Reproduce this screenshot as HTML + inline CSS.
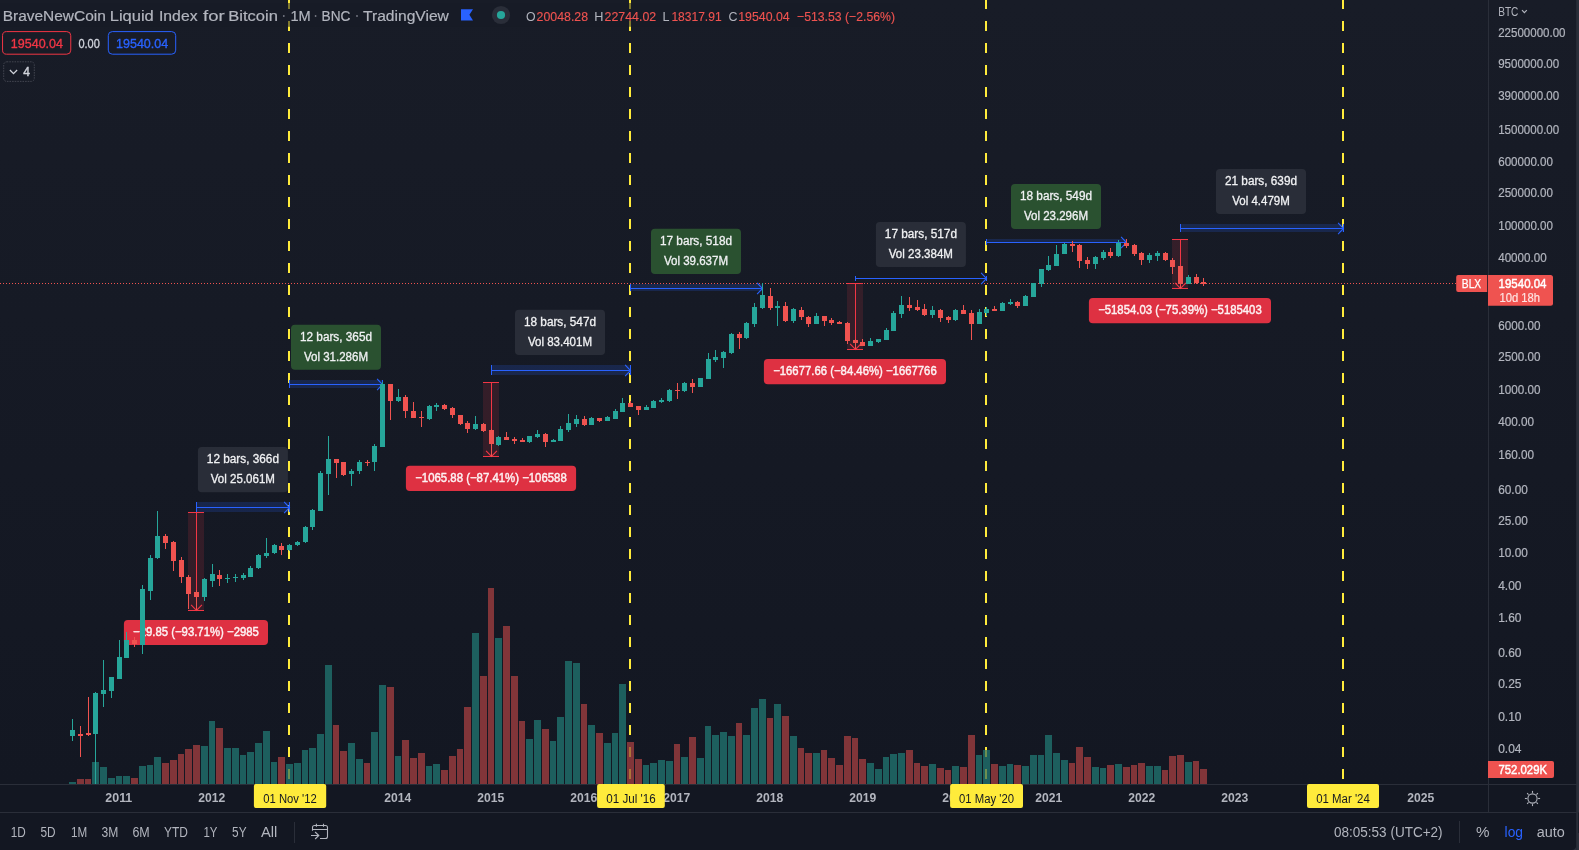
<!DOCTYPE html>
<html><head><meta charset="utf-8"><title>BLX</title>
<style>html,body{margin:0;padding:0;background:#161a25;overflow:hidden}body{width:1579px;height:850px;font-family:"Liberation Sans",sans-serif}</style></head>
<body>
<svg width="1579" height="850" viewBox="0 0 1579 850" style="display:block;will-change:transform" font-family="Liberation Sans, sans-serif">
<defs><linearGradient id="bgg" x1="0" y1="0" x2="0" y2="1"><stop offset="0" stop-color="#181c27"/><stop offset="1" stop-color="#131722"/></linearGradient></defs>
<rect x="0" y="0" width="1579" height="784" fill="url(#bgg)"/>
<g id="vlines">
<line x1="289" y1="-1" x2="289" y2="784" stroke="#ffeb3b" stroke-width="2" stroke-dasharray="10 12"/>
<line x1="630" y1="-1" x2="630" y2="784" stroke="#ffeb3b" stroke-width="2" stroke-dasharray="10 12"/>
<line x1="986" y1="-1" x2="986" y2="784" stroke="#ffeb3b" stroke-width="2" stroke-dasharray="10 12"/>
<line x1="1343" y1="-1" x2="1343" y2="784" stroke="#ffeb3b" stroke-width="2" stroke-dasharray="10 12"/>
</g>
<line x1="0" y1="283.5" x2="1488" y2="283.5" stroke="#ef5350" stroke-width="1" stroke-dasharray="1 2" shape-rendering="crispEdges"/>
<rect x="196.5" y="502" width="93.0" height="10" fill="#2962ff" fill-opacity="0.18"/><line x1="196.5" y1="507.5" x2="289.5" y2="507.5" stroke="#2962ff" stroke-width="1"/><line x1="196.5" y1="502" x2="196.5" y2="512" stroke="#2962ff" stroke-width="1"/><line x1="289.5" y1="502" x2="289.5" y2="512" stroke="#2962ff" stroke-width="1"/><polyline points="284.1,501.9 289.5,507.5 284.1,513.1" fill="none" stroke="#2962ff" stroke-width="1.1"/>
<rect x="289.5" y="380" width="93.0" height="8" fill="#2962ff" fill-opacity="0.18"/><line x1="289.5" y1="384.5" x2="382.5" y2="384.5" stroke="#2962ff" stroke-width="1"/><line x1="289.5" y1="380" x2="289.5" y2="388" stroke="#2962ff" stroke-width="1"/><line x1="382.5" y1="380" x2="382.5" y2="388" stroke="#2962ff" stroke-width="1"/><polyline points="377.1,378.9 382.5,384.5 377.1,390.1" fill="none" stroke="#2962ff" stroke-width="1.1"/>
<rect x="491.5" y="365" width="139.0" height="10" fill="#2962ff" fill-opacity="0.18"/><line x1="491.5" y1="370.5" x2="630.5" y2="370.5" stroke="#2962ff" stroke-width="1"/><line x1="491.5" y1="365" x2="491.5" y2="375" stroke="#2962ff" stroke-width="1"/><line x1="630.5" y1="365" x2="630.5" y2="375" stroke="#2962ff" stroke-width="1"/><polyline points="625.1,364.9 630.5,370.5 625.1,376.1" fill="none" stroke="#2962ff" stroke-width="1.1"/>
<rect x="630.5" y="284" width="132.0" height="7" fill="#2962ff" fill-opacity="0.18"/><line x1="630.5" y1="288.5" x2="762.5" y2="288.5" stroke="#2962ff" stroke-width="1"/><line x1="630.5" y1="284" x2="630.5" y2="291" stroke="#2962ff" stroke-width="1"/><line x1="762.5" y1="284" x2="762.5" y2="291" stroke="#2962ff" stroke-width="1"/><polyline points="757.1,282.9 762.5,288.5 757.1,294.1" fill="none" stroke="#2962ff" stroke-width="1.1"/>
<line x1="855.5" y1="278.5" x2="986.5" y2="278.5" stroke="#2962ff" stroke-width="1"/><line x1="855.5" y1="276.0" x2="855.5" y2="281.0" stroke="#2962ff" stroke-width="1"/><line x1="986.5" y1="276.0" x2="986.5" y2="281.0" stroke="#2962ff" stroke-width="1"/><polyline points="981.1,272.9 986.5,278.5 981.1,284.1" fill="none" stroke="#2962ff" stroke-width="1.1"/>
<rect x="986.5" y="239" width="140.0" height="4" fill="#2962ff" fill-opacity="0.18"/><line x1="986.5" y1="242.5" x2="1126.5" y2="242.5" stroke="#2962ff" stroke-width="1"/><line x1="986.5" y1="239" x2="986.5" y2="245.0" stroke="#2962ff" stroke-width="1"/><line x1="1126.5" y1="239" x2="1126.5" y2="245.0" stroke="#2962ff" stroke-width="1"/><polyline points="1121.1,236.9 1126.5,242.5 1121.1,248.1" fill="none" stroke="#2962ff" stroke-width="1.1"/>
<rect x="1180.5" y="224" width="163.0" height="8" fill="#2962ff" fill-opacity="0.18"/><line x1="1180.5" y1="228.5" x2="1343.5" y2="228.5" stroke="#2962ff" stroke-width="1"/><line x1="1180.5" y1="224" x2="1180.5" y2="232" stroke="#2962ff" stroke-width="1"/><line x1="1343.5" y1="224" x2="1343.5" y2="232" stroke="#2962ff" stroke-width="1"/><polyline points="1338.1,222.9 1343.5,228.5 1338.1,234.1" fill="none" stroke="#2962ff" stroke-width="1.1"/>
<rect x="188.0" y="512.5" width="16.0" height="98.0" fill="#f23645" fill-opacity="0.14"/><line x1="196.5" y1="512.5" x2="196.5" y2="610.5" stroke="#f23645" stroke-width="1"/><line x1="188.0" y1="512.5" x2="204.0" y2="512.5" stroke="#f23645" stroke-width="1"/><line x1="188.0" y1="610.5" x2="204.0" y2="610.5" stroke="#f23645" stroke-width="1"/><polyline points="191.1,604.9 196.5,610.5 201.9,604.9" fill="none" stroke="#f23645" stroke-width="1.1"/>
<rect x="483.0" y="382.5" width="16.0" height="74.0" fill="#f23645" fill-opacity="0.14"/><line x1="491.5" y1="382.5" x2="491.5" y2="456.5" stroke="#f23645" stroke-width="1"/><line x1="483.0" y1="382.5" x2="499.0" y2="382.5" stroke="#f23645" stroke-width="1"/><line x1="483.0" y1="456.5" x2="499.0" y2="456.5" stroke="#f23645" stroke-width="1"/><polyline points="486.1,450.9 491.5,456.5 496.9,450.9" fill="none" stroke="#f23645" stroke-width="1.1"/>
<rect x="847.0" y="283.5" width="16.0" height="66.0" fill="#f23645" fill-opacity="0.14"/><line x1="855.5" y1="283.5" x2="855.5" y2="349.5" stroke="#f23645" stroke-width="1"/><line x1="847.0" y1="283.5" x2="863.0" y2="283.5" stroke="#f23645" stroke-width="1"/><line x1="847.0" y1="349.5" x2="863.0" y2="349.5" stroke="#f23645" stroke-width="1"/><polyline points="850.1,343.9 855.5,349.5 860.9,343.9" fill="none" stroke="#f23645" stroke-width="1.1"/>
<rect x="1172.0" y="239.5" width="16.0" height="49.0" fill="#f23645" fill-opacity="0.14"/><line x1="1180.5" y1="239.5" x2="1180.5" y2="288.5" stroke="#f23645" stroke-width="1"/><line x1="1172.0" y1="239.5" x2="1188.0" y2="239.5" stroke="#f23645" stroke-width="1"/><line x1="1172.0" y1="288.5" x2="1188.0" y2="288.5" stroke="#f23645" stroke-width="1"/><polyline points="1175.1,282.9 1180.5,288.5 1185.9,282.9" fill="none" stroke="#f23645" stroke-width="1.1"/>
<rect x="197.9" y="447.1" width="90" height="45.1" rx="4" fill="#2a2e39" fill-opacity="0.97"/><text x="242.9" y="463.0" font-size="12" fill="#f0f1f3" stroke="#f0f1f3" stroke-width="0.3" text-anchor="middle" textLength="72.1" lengthAdjust="spacingAndGlyphs">12 bars, 366d</text><text x="242.9" y="482.90000000000003" font-size="12" fill="#f0f1f3" stroke="#f0f1f3" stroke-width="0.3" text-anchor="middle" textLength="64.2" lengthAdjust="spacingAndGlyphs">Vol 25.061M</text>
<rect x="291" y="324.7" width="90" height="45.1" rx="4" fill="#2b5431" fill-opacity="0.97"/><text x="336.0" y="340.59999999999997" font-size="12" fill="#f0f1f3" stroke="#f0f1f3" stroke-width="0.3" text-anchor="middle" textLength="72.1" lengthAdjust="spacingAndGlyphs">12 bars, 365d</text><text x="336.0" y="360.5" font-size="12" fill="#f0f1f3" stroke="#f0f1f3" stroke-width="0.3" text-anchor="middle" textLength="64.2" lengthAdjust="spacingAndGlyphs">Vol 31.286M</text>
<rect x="515" y="309.8" width="90" height="45.1" rx="4" fill="#2a2e39" fill-opacity="0.97"/><text x="560.0" y="325.7" font-size="12" fill="#f0f1f3" stroke="#f0f1f3" stroke-width="0.3" text-anchor="middle" textLength="72.1" lengthAdjust="spacingAndGlyphs">18 bars, 547d</text><text x="560.0" y="345.6" font-size="12" fill="#f0f1f3" stroke="#f0f1f3" stroke-width="0.3" text-anchor="middle" textLength="64.2" lengthAdjust="spacingAndGlyphs">Vol 83.401M</text>
<rect x="651" y="228.85" width="90" height="45.1" rx="4" fill="#2b5431" fill-opacity="0.97"/><text x="696.0" y="244.75" font-size="12" fill="#f0f1f3" stroke="#f0f1f3" stroke-width="0.3" text-anchor="middle" textLength="72.1" lengthAdjust="spacingAndGlyphs">17 bars, 518d</text><text x="696.0" y="264.65" font-size="12" fill="#f0f1f3" stroke="#f0f1f3" stroke-width="0.3" text-anchor="middle" textLength="64.2" lengthAdjust="spacingAndGlyphs">Vol 39.637M</text>
<rect x="875.9" y="221.9" width="90" height="45.1" rx="4" fill="#2a2e39" fill-opacity="0.97"/><text x="920.9" y="237.8" font-size="12" fill="#f0f1f3" stroke="#f0f1f3" stroke-width="0.3" text-anchor="middle" textLength="72.1" lengthAdjust="spacingAndGlyphs">17 bars, 517d</text><text x="920.9" y="257.7" font-size="12" fill="#f0f1f3" stroke="#f0f1f3" stroke-width="0.3" text-anchor="middle" textLength="64.2" lengthAdjust="spacingAndGlyphs">Vol 23.384M</text>
<rect x="1011" y="183.9" width="90" height="45.1" rx="4" fill="#2b5431" fill-opacity="0.97"/><text x="1056.0" y="199.8" font-size="12" fill="#f0f1f3" stroke="#f0f1f3" stroke-width="0.3" text-anchor="middle" textLength="72.1" lengthAdjust="spacingAndGlyphs">18 bars, 549d</text><text x="1056.0" y="219.7" font-size="12" fill="#f0f1f3" stroke="#f0f1f3" stroke-width="0.3" text-anchor="middle" textLength="64.2" lengthAdjust="spacingAndGlyphs">Vol 23.296M</text>
<rect x="1216" y="168.9" width="90" height="45.1" rx="4" fill="#2a2e39" fill-opacity="0.97"/><text x="1261.0" y="184.8" font-size="12" fill="#f0f1f3" stroke="#f0f1f3" stroke-width="0.3" text-anchor="middle" textLength="72.1" lengthAdjust="spacingAndGlyphs">21 bars, 639d</text><text x="1261.0" y="204.7" font-size="12" fill="#f0f1f3" stroke="#f0f1f3" stroke-width="0.3" text-anchor="middle" textLength="57.6" lengthAdjust="spacingAndGlyphs">Vol 4.479M</text>
<rect x="123.9" y="619.9" width="144.1" height="25.2" rx="4" fill="#de3142"/><text x="195.95" y="635.8" font-size="12.4" fill="#fdf2f3" stroke="#fdf2f3" stroke-width="0.45" text-anchor="middle" textLength="125.9" lengthAdjust="spacingAndGlyphs">−29.85 (−93.71%) −2985</text>
<rect x="405.9" y="465.8" width="170.2" height="25.3" rx="4" fill="#de3142"/><text x="491.0" y="481.75" font-size="12.4" fill="#fdf2f3" stroke="#fdf2f3" stroke-width="0.45" text-anchor="middle" textLength="151.6" lengthAdjust="spacingAndGlyphs">−1065.88 (−87.41%) −106588</text>
<rect x="763.9" y="358.9" width="182.1" height="25.3" rx="4" fill="#de3142"/><text x="854.9499999999999" y="374.84999999999997" font-size="12.4" fill="#fdf2f3" stroke="#fdf2f3" stroke-width="0.45" text-anchor="middle" textLength="163.6" lengthAdjust="spacingAndGlyphs">−16677.66 (−84.46%) −1667766</text>
<rect x="1088.9" y="297.9" width="182.1" height="25.3" rx="4" fill="#de3142"/><text x="1179.95" y="313.84999999999997" font-size="12.4" fill="#fdf2f3" stroke="#fdf2f3" stroke-width="0.45" text-anchor="middle" textLength="163.6" lengthAdjust="spacingAndGlyphs">−51854.03 (−75.39%) −5185403</text>
<g id="vol" shape-rendering="crispEdges">
<rect x="69" y="781.5" width="7" height="2.5" fill="#1d5f5e"/>
<rect x="77" y="778.7" width="7" height="5.3" fill="#813539"/>
<rect x="85" y="778.7" width="6" height="5.3" fill="#813539"/>
<rect x="92" y="761.8" width="7" height="22.2" fill="#1d5f5e"/>
<rect x="100" y="766.7" width="7" height="17.3" fill="#1d5f5e"/>
<rect x="108" y="777.7" width="7" height="6.3" fill="#1d5f5e"/>
<rect x="116" y="775.8" width="6" height="8.2" fill="#1d5f5e"/>
<rect x="123" y="775.8" width="7" height="8.2" fill="#1d5f5e"/>
<rect x="131" y="777.7" width="7" height="6.3" fill="#813539"/>
<rect x="139" y="765.7" width="7" height="18.3" fill="#1d5f5e"/>
<rect x="147" y="764.7" width="6" height="19.3" fill="#1d5f5e"/>
<rect x="154" y="756.8" width="7" height="27.2" fill="#1d5f5e"/>
<rect x="162" y="762.7" width="7" height="21.3" fill="#813539"/>
<rect x="170" y="759.8" width="7" height="24.2" fill="#813539"/>
<rect x="178" y="753.7" width="6" height="30.3" fill="#813539"/>
<rect x="185" y="748.7" width="7" height="35.3" fill="#813539"/>
<rect x="193" y="744.8" width="7" height="39.2" fill="#813539"/>
<rect x="201" y="745.8" width="7" height="38.2" fill="#1d5f5e"/>
<rect x="209" y="720.7" width="6" height="63.3" fill="#1d5f5e"/>
<rect x="216" y="727.7" width="7" height="56.3" fill="#813539"/>
<rect x="224" y="747.8" width="7" height="36.2" fill="#1d5f5e"/>
<rect x="232" y="747.8" width="7" height="36.2" fill="#1d5f5e"/>
<rect x="240" y="754.7" width="6" height="29.3" fill="#1d5f5e"/>
<rect x="247" y="751.7" width="7" height="32.3" fill="#1d5f5e"/>
<rect x="255" y="742.8" width="7" height="41.2" fill="#1d5f5e"/>
<rect x="263" y="731.1" width="7" height="52.9" fill="#1d5f5e"/>
<rect x="271" y="762.0" width="6" height="22.0" fill="#1d5f5e"/>
<rect x="278" y="757.1" width="7" height="26.9" fill="#813539"/>
<rect x="286" y="764.0" width="7" height="20.0" fill="#1d5f5e"/>
<rect x="294" y="763.0" width="7" height="21.0" fill="#1d5f5e"/>
<rect x="302" y="750.1" width="6" height="33.9" fill="#1d5f5e"/>
<rect x="309" y="748.2" width="7" height="35.8" fill="#1d5f5e"/>
<rect x="317" y="734.1" width="7" height="49.9" fill="#1d5f5e"/>
<rect x="325" y="665.1" width="7" height="118.9" fill="#1d5f5e"/>
<rect x="333" y="725.2" width="6" height="58.8" fill="#813539"/>
<rect x="340" y="751.1" width="7" height="32.9" fill="#813539"/>
<rect x="348" y="743.0" width="7" height="41.0" fill="#1d5f5e"/>
<rect x="356" y="759.0" width="7" height="25.0" fill="#1d5f5e"/>
<rect x="364" y="763.0" width="6" height="21.0" fill="#813539"/>
<rect x="371" y="732.1" width="7" height="51.9" fill="#1d5f5e"/>
<rect x="379" y="685.2" width="7" height="98.8" fill="#1d5f5e"/>
<rect x="387" y="687.1" width="7" height="96.9" fill="#813539"/>
<rect x="395" y="756.1" width="6" height="27.9" fill="#1d5f5e"/>
<rect x="402" y="740.0" width="7" height="44.0" fill="#813539"/>
<rect x="410" y="758.1" width="7" height="25.9" fill="#813539"/>
<rect x="418" y="753.1" width="7" height="30.9" fill="#813539"/>
<rect x="426" y="766.0" width="6" height="18.0" fill="#1d5f5e"/>
<rect x="433" y="764.0" width="7" height="20.0" fill="#1d5f5e"/>
<rect x="441" y="770.0" width="7" height="14.0" fill="#813539"/>
<rect x="449" y="756.1" width="7" height="27.9" fill="#813539"/>
<rect x="457" y="749.2" width="6" height="34.8" fill="#813539"/>
<rect x="464" y="707.2" width="7" height="76.8" fill="#813539"/>
<rect x="472" y="633.0" width="7" height="151.0" fill="#1d5f5e"/>
<rect x="480" y="676.3" width="7" height="107.7" fill="#813539"/>
<rect x="488" y="588.0" width="6" height="196.0" fill="#813539"/>
<rect x="495" y="638.2" width="7" height="145.8" fill="#1d5f5e"/>
<rect x="503" y="626.1" width="7" height="157.9" fill="#813539"/>
<rect x="511" y="676.3" width="7" height="107.7" fill="#813539"/>
<rect x="519" y="721.2" width="6" height="62.8" fill="#813539"/>
<rect x="526" y="739.0" width="7" height="45.0" fill="#1d5f5e"/>
<rect x="534" y="719.7" width="7" height="64.3" fill="#1d5f5e"/>
<rect x="542" y="728.8" width="7" height="55.2" fill="#813539"/>
<rect x="550" y="740.7" width="6" height="43.3" fill="#1d5f5e"/>
<rect x="557" y="716.5" width="7" height="67.5" fill="#1d5f5e"/>
<rect x="565" y="661.4" width="7" height="122.6" fill="#1d5f5e"/>
<rect x="573" y="662.6" width="7" height="121.4" fill="#1d5f5e"/>
<rect x="581" y="703.6" width="6" height="80.4" fill="#813539"/>
<rect x="588" y="724.5" width="7" height="59.5" fill="#1d5f5e"/>
<rect x="596" y="732.5" width="7" height="51.5" fill="#813539"/>
<rect x="604" y="742.6" width="7" height="41.4" fill="#1d5f5e"/>
<rect x="612" y="732.5" width="6" height="51.5" fill="#1d5f5e"/>
<rect x="619" y="683.7" width="7" height="100.3" fill="#1d5f5e"/>
<rect x="627" y="741.6" width="7" height="42.4" fill="#813539"/>
<rect x="635" y="758.5" width="7" height="25.5" fill="#813539"/>
<rect x="643" y="764.6" width="6" height="19.4" fill="#1d5f5e"/>
<rect x="650" y="762.5" width="7" height="21.5" fill="#1d5f5e"/>
<rect x="658" y="759.7" width="7" height="24.3" fill="#1d5f5e"/>
<rect x="666" y="760.6" width="7" height="23.4" fill="#1d5f5e"/>
<rect x="674" y="743.5" width="6" height="40.5" fill="#813539"/>
<rect x="681" y="756.6" width="7" height="27.4" fill="#1d5f5e"/>
<rect x="689" y="736.7" width="7" height="47.3" fill="#813539"/>
<rect x="697" y="757.6" width="7" height="26.4" fill="#1d5f5e"/>
<rect x="705" y="725.7" width="6" height="58.3" fill="#1d5f5e"/>
<rect x="712" y="734.6" width="7" height="49.4" fill="#1d5f5e"/>
<rect x="720" y="731.6" width="7" height="52.4" fill="#1d5f5e"/>
<rect x="728" y="735.5" width="7" height="48.5" fill="#1d5f5e"/>
<rect x="736" y="722.6" width="6" height="61.4" fill="#813539"/>
<rect x="743" y="734.6" width="7" height="49.4" fill="#1d5f5e"/>
<rect x="751" y="707.6" width="7" height="76.4" fill="#1d5f5e"/>
<rect x="759" y="698.5" width="7" height="85.5" fill="#1d5f5e"/>
<rect x="767" y="717.5" width="6" height="66.5" fill="#813539"/>
<rect x="774" y="703.6" width="7" height="80.4" fill="#1d5f5e"/>
<rect x="782" y="715.6" width="7" height="68.4" fill="#813539"/>
<rect x="790" y="735.5" width="7" height="48.5" fill="#1d5f5e"/>
<rect x="798" y="747.5" width="6" height="36.5" fill="#813539"/>
<rect x="805" y="752.6" width="7" height="31.4" fill="#813539"/>
<rect x="813" y="752.6" width="7" height="31.4" fill="#1d5f5e"/>
<rect x="821" y="749.6" width="6" height="34.4" fill="#813539"/>
<rect x="828" y="757.7" width="7" height="26.3" fill="#813539"/>
<rect x="836" y="764.7" width="7" height="19.3" fill="#813539"/>
<rect x="844" y="735.9" width="7" height="48.1" fill="#813539"/>
<rect x="852" y="737.9" width="6" height="46.1" fill="#813539"/>
<rect x="859" y="758.7" width="7" height="25.3" fill="#813539"/>
<rect x="867" y="762.7" width="7" height="21.3" fill="#1d5f5e"/>
<rect x="875" y="768.8" width="7" height="15.2" fill="#1d5f5e"/>
<rect x="883" y="756.9" width="6" height="27.1" fill="#1d5f5e"/>
<rect x="890" y="753.9" width="7" height="30.1" fill="#1d5f5e"/>
<rect x="898" y="752.8" width="7" height="31.2" fill="#1d5f5e"/>
<rect x="906" y="749.8" width="7" height="34.2" fill="#813539"/>
<rect x="914" y="762.7" width="6" height="21.3" fill="#813539"/>
<rect x="921" y="765.8" width="7" height="18.2" fill="#813539"/>
<rect x="929" y="763.7" width="7" height="20.3" fill="#1d5f5e"/>
<rect x="937" y="767.8" width="7" height="16.2" fill="#813539"/>
<rect x="945" y="769.8" width="6" height="14.2" fill="#813539"/>
<rect x="952" y="765.8" width="7" height="18.2" fill="#1d5f5e"/>
<rect x="960" y="766.8" width="7" height="17.2" fill="#813539"/>
<rect x="968" y="734.9" width="7" height="49.1" fill="#813539"/>
<rect x="976" y="754.9" width="6" height="29.1" fill="#1d5f5e"/>
<rect x="983" y="749.8" width="7" height="34.2" fill="#1d5f5e"/>
<rect x="991" y="763.7" width="7" height="20.3" fill="#813539"/>
<rect x="999" y="765.8" width="7" height="18.2" fill="#1d5f5e"/>
<rect x="1007" y="763.7" width="6" height="20.3" fill="#1d5f5e"/>
<rect x="1014" y="764.7" width="7" height="19.3" fill="#813539"/>
<rect x="1022" y="765.8" width="7" height="18.2" fill="#1d5f5e"/>
<rect x="1030" y="754.9" width="7" height="29.1" fill="#1d5f5e"/>
<rect x="1038" y="754.9" width="6" height="29.1" fill="#1d5f5e"/>
<rect x="1045" y="734.9" width="7" height="49.1" fill="#1d5f5e"/>
<rect x="1053" y="752.8" width="7" height="31.2" fill="#1d5f5e"/>
<rect x="1061" y="759.7" width="7" height="24.3" fill="#1d5f5e"/>
<rect x="1069" y="762.7" width="6" height="21.3" fill="#813539"/>
<rect x="1076" y="746.8" width="7" height="37.2" fill="#813539"/>
<rect x="1084" y="756.9" width="7" height="27.1" fill="#813539"/>
<rect x="1092" y="766.8" width="7" height="17.2" fill="#1d5f5e"/>
<rect x="1100" y="767.8" width="6" height="16.2" fill="#1d5f5e"/>
<rect x="1107" y="764.7" width="7" height="19.3" fill="#813539"/>
<rect x="1115" y="763.7" width="7" height="20.3" fill="#1d5f5e"/>
<rect x="1123" y="766.8" width="7" height="17.2" fill="#813539"/>
<rect x="1131" y="764.7" width="6" height="19.3" fill="#813539"/>
<rect x="1138" y="762.7" width="7" height="21.3" fill="#813539"/>
<rect x="1146" y="765.8" width="7" height="18.2" fill="#1d5f5e"/>
<rect x="1154" y="765.8" width="7" height="18.2" fill="#1d5f5e"/>
<rect x="1162" y="769.8" width="6" height="14.2" fill="#813539"/>
<rect x="1169" y="755.9" width="7" height="28.1" fill="#813539"/>
<rect x="1177" y="754.9" width="7" height="29.1" fill="#813539"/>
<rect x="1185" y="761.7" width="7" height="22.3" fill="#1d5f5e"/>
<rect x="1193" y="760.7" width="6" height="23.3" fill="#813539"/>
<rect x="1200" y="768.8" width="7" height="15.2" fill="#813539"/>
</g>
<g opacity="0.35">
<line x1="289" y1="659" x2="289" y2="784" stroke="#ffeb3b" stroke-width="2" stroke-dasharray="10 12"/>
<line x1="630" y1="659" x2="630" y2="784" stroke="#ffeb3b" stroke-width="2" stroke-dasharray="10 12"/>
<line x1="986" y1="659" x2="986" y2="784" stroke="#ffeb3b" stroke-width="2" stroke-dasharray="10 12"/>
<line x1="1343" y1="659" x2="1343" y2="784" stroke="#ffeb3b" stroke-width="2" stroke-dasharray="10 12"/>
</g>
<g id="candles" shape-rendering="crispEdges">
<rect x="72" y="719.0" width="1" height="22.0" fill="#26a69a"/>
<rect x="70" y="730.0" width="5" height="6.0" fill="#26a69a"/>
<rect x="80" y="726.0" width="1" height="31.0" fill="#ef5350"/>
<rect x="78" y="734.0" width="5" height="2.0" fill="#ef5350"/>
<rect x="88" y="697.0" width="1" height="39.0" fill="#ef5350"/>
<rect x="86" y="733.2" width="5" height="1.3" fill="#ef5350"/>
<rect x="95" y="692.0" width="1" height="92.0" fill="#26a69a"/>
<rect x="93" y="692.8" width="5" height="41.2" fill="#26a69a"/>
<rect x="103" y="660.0" width="1" height="47.0" fill="#26a69a"/>
<rect x="101" y="690.0" width="5" height="4.2" fill="#26a69a"/>
<rect x="111" y="677.0" width="1" height="21.0" fill="#26a69a"/>
<rect x="109" y="677.0" width="5" height="14.0" fill="#26a69a"/>
<rect x="119" y="640.0" width="1" height="39.0" fill="#26a69a"/>
<rect x="117" y="657.0" width="5" height="22.0" fill="#26a69a"/>
<rect x="126" y="632.0" width="1" height="26.0" fill="#26a69a"/>
<rect x="124" y="640.0" width="5" height="17.6" fill="#26a69a"/>
<rect x="134" y="636.5" width="1" height="10.5" fill="#ef5350"/>
<rect x="132" y="640.0" width="5" height="3.5" fill="#ef5350"/>
<rect x="142" y="585.2" width="1" height="68.8" fill="#26a69a"/>
<rect x="140" y="589.4" width="5" height="55.3" fill="#26a69a"/>
<rect x="150" y="555.3" width="1" height="44.7" fill="#26a69a"/>
<rect x="148" y="557.6" width="5" height="33.0" fill="#26a69a"/>
<rect x="157" y="510.6" width="1" height="48.2" fill="#26a69a"/>
<rect x="155" y="535.8" width="5" height="21.8" fill="#26a69a"/>
<rect x="165" y="534.0" width="1" height="15.0" fill="#ef5350"/>
<rect x="163" y="535.8" width="5" height="7.0" fill="#ef5350"/>
<rect x="173" y="540.5" width="1" height="30.5" fill="#ef5350"/>
<rect x="171" y="541.9" width="5" height="18.8" fill="#ef5350"/>
<rect x="181" y="557.0" width="1" height="25.8" fill="#ef5350"/>
<rect x="179" y="560.0" width="5" height="16.5" fill="#ef5350"/>
<rect x="188" y="575.3" width="1" height="34.1" fill="#ef5350"/>
<rect x="186" y="577.0" width="5" height="16.6" fill="#ef5350"/>
<rect x="196" y="589.5" width="1" height="20.5" fill="#ef5350"/>
<rect x="194" y="592.2" width="5" height="4.3" fill="#ef5350"/>
<rect x="204" y="578.0" width="1" height="22.7" fill="#26a69a"/>
<rect x="202" y="579.3" width="5" height="17.2" fill="#26a69a"/>
<rect x="212" y="564.0" width="1" height="23.0" fill="#26a69a"/>
<rect x="210" y="574.0" width="5" height="6.7" fill="#26a69a"/>
<rect x="219" y="570.0" width="1" height="16.0" fill="#ef5350"/>
<rect x="217" y="575.3" width="5" height="3.5" fill="#ef5350"/>
<rect x="227" y="574.0" width="1" height="8.8" fill="#26a69a"/>
<rect x="225" y="577.8" width="5" height="1.0" fill="#26a69a"/>
<rect x="235" y="574.0" width="1" height="8.0" fill="#26a69a"/>
<rect x="233" y="577.4" width="5" height="1.0" fill="#26a69a"/>
<rect x="243" y="573.4" width="1" height="6.6" fill="#26a69a"/>
<rect x="241" y="575.3" width="5" height="2.7" fill="#26a69a"/>
<rect x="250" y="566.4" width="1" height="10.8" fill="#26a69a"/>
<rect x="248" y="567.5" width="5" height="9.0" fill="#26a69a"/>
<rect x="258" y="553.5" width="1" height="15.0" fill="#26a69a"/>
<rect x="256" y="555.3" width="5" height="12.7" fill="#26a69a"/>
<rect x="266" y="538.4" width="1" height="19.6" fill="#26a69a"/>
<rect x="264" y="552.5" width="5" height="3.3" fill="#26a69a"/>
<rect x="274" y="544.0" width="1" height="10.0" fill="#26a69a"/>
<rect x="272" y="545.0" width="5" height="8.0" fill="#26a69a"/>
<rect x="281" y="543.0" width="1" height="12.0" fill="#ef5350"/>
<rect x="279" y="545.9" width="5" height="3.7" fill="#ef5350"/>
<rect x="289" y="543.5" width="1" height="7.5" fill="#26a69a"/>
<rect x="287" y="545.0" width="5" height="4.6" fill="#26a69a"/>
<rect x="297" y="541.0" width="1" height="5.0" fill="#26a69a"/>
<rect x="295" y="541.9" width="5" height="3.1" fill="#26a69a"/>
<rect x="305" y="525.5" width="1" height="17.5" fill="#26a69a"/>
<rect x="303" y="526.6" width="5" height="15.8" fill="#26a69a"/>
<rect x="312" y="508.5" width="1" height="21.5" fill="#26a69a"/>
<rect x="310" y="509.9" width="5" height="17.1" fill="#26a69a"/>
<rect x="320" y="471.0" width="1" height="40.0" fill="#26a69a"/>
<rect x="318" y="473.0" width="5" height="37.6" fill="#26a69a"/>
<rect x="328" y="436.0" width="1" height="58.8" fill="#26a69a"/>
<rect x="326" y="459.3" width="5" height="14.3" fill="#26a69a"/>
<rect x="336" y="459.3" width="1" height="18.3" fill="#ef5350"/>
<rect x="334" y="459.3" width="5" height="3.5" fill="#ef5350"/>
<rect x="343" y="461.9" width="1" height="13.9" fill="#ef5350"/>
<rect x="341" y="461.9" width="5" height="12.9" fill="#ef5350"/>
<rect x="351" y="469.4" width="1" height="16.5" fill="#26a69a"/>
<rect x="349" y="470.6" width="5" height="3.0" fill="#26a69a"/>
<rect x="359" y="460.0" width="1" height="13.6" fill="#26a69a"/>
<rect x="357" y="461.6" width="5" height="9.4" fill="#26a69a"/>
<rect x="367" y="460.0" width="1" height="5.9" fill="#ef5350"/>
<rect x="365" y="462.2" width="5" height="1.0" fill="#ef5350"/>
<rect x="374" y="444.0" width="1" height="26.6" fill="#26a69a"/>
<rect x="372" y="445.9" width="5" height="16.0" fill="#26a69a"/>
<rect x="382" y="381.6" width="1" height="65.4" fill="#26a69a"/>
<rect x="380" y="383.5" width="5" height="63.1" fill="#26a69a"/>
<rect x="390" y="384.0" width="1" height="36.0" fill="#ef5350"/>
<rect x="388" y="384.0" width="5" height="16.5" fill="#ef5350"/>
<rect x="398" y="389.0" width="1" height="13.0" fill="#26a69a"/>
<rect x="396" y="397.2" width="5" height="3.3" fill="#26a69a"/>
<rect x="405" y="395.0" width="1" height="23.4" fill="#ef5350"/>
<rect x="403" y="396.5" width="5" height="14.1" fill="#ef5350"/>
<rect x="413" y="402.4" width="1" height="15.6" fill="#ef5350"/>
<rect x="411" y="410.6" width="5" height="7.0" fill="#ef5350"/>
<rect x="421" y="410.6" width="1" height="16.0" fill="#ef5350"/>
<rect x="419" y="417.0" width="5" height="1.4" fill="#ef5350"/>
<rect x="429" y="405.0" width="1" height="15.0" fill="#26a69a"/>
<rect x="427" y="405.9" width="5" height="12.9" fill="#26a69a"/>
<rect x="436" y="403.0" width="1" height="7.5" fill="#26a69a"/>
<rect x="434" y="404.7" width="5" height="1.9" fill="#26a69a"/>
<rect x="444" y="404.0" width="1" height="6.0" fill="#ef5350"/>
<rect x="442" y="405.0" width="5" height="3.7" fill="#ef5350"/>
<rect x="452" y="406.8" width="1" height="10.9" fill="#ef5350"/>
<rect x="450" y="407.8" width="5" height="7.5" fill="#ef5350"/>
<rect x="460" y="414.5" width="1" height="10.0" fill="#ef5350"/>
<rect x="458" y="415.0" width="5" height="8.8" fill="#ef5350"/>
<rect x="467" y="421.0" width="1" height="11.8" fill="#ef5350"/>
<rect x="465" y="422.8" width="5" height="6.1" fill="#ef5350"/>
<rect x="475" y="416.2" width="1" height="13.8" fill="#26a69a"/>
<rect x="473" y="424.0" width="5" height="4.9" fill="#26a69a"/>
<rect x="483" y="423.0" width="1" height="8.5" fill="#ef5350"/>
<rect x="481" y="423.8" width="5" height="6.9" fill="#ef5350"/>
<rect x="491" y="429.0" width="1" height="27.7" fill="#ef5350"/>
<rect x="489" y="430.0" width="5" height="13.5" fill="#ef5350"/>
<rect x="498" y="436.0" width="1" height="9.5" fill="#26a69a"/>
<rect x="496" y="436.6" width="5" height="7.9" fill="#26a69a"/>
<rect x="506" y="432.0" width="1" height="8.0" fill="#ef5350"/>
<rect x="504" y="437.0" width="5" height="2.8" fill="#ef5350"/>
<rect x="514" y="437.0" width="1" height="7.0" fill="#ef5350"/>
<rect x="512" y="439.0" width="5" height="2.0" fill="#ef5350"/>
<rect x="522" y="438.0" width="1" height="4.0" fill="#ef5350"/>
<rect x="520" y="439.8" width="5" height="1.8" fill="#ef5350"/>
<rect x="529" y="436.0" width="1" height="7.0" fill="#26a69a"/>
<rect x="527" y="436.0" width="5" height="5.6" fill="#26a69a"/>
<rect x="537" y="430.0" width="1" height="8.3" fill="#26a69a"/>
<rect x="535" y="433.5" width="5" height="3.5" fill="#26a69a"/>
<rect x="545" y="432.6" width="1" height="14.4" fill="#ef5350"/>
<rect x="543" y="433.5" width="5" height="8.1" fill="#ef5350"/>
<rect x="553" y="438.8" width="1" height="3.0" fill="#26a69a"/>
<rect x="551" y="439.8" width="5" height="1.8" fill="#26a69a"/>
<rect x="560" y="426.2" width="1" height="14.8" fill="#26a69a"/>
<rect x="558" y="428.9" width="5" height="11.8" fill="#26a69a"/>
<rect x="568" y="414.0" width="1" height="17.9" fill="#26a69a"/>
<rect x="566" y="422.8" width="5" height="7.2" fill="#26a69a"/>
<rect x="576" y="414.9" width="1" height="12.1" fill="#26a69a"/>
<rect x="574" y="419.0" width="5" height="4.8" fill="#26a69a"/>
<rect x="584" y="415.9" width="1" height="9.9" fill="#ef5350"/>
<rect x="582" y="419.0" width="5" height="5.7" fill="#ef5350"/>
<rect x="591" y="416.8" width="1" height="8.2" fill="#26a69a"/>
<rect x="589" y="418.0" width="5" height="6.7" fill="#26a69a"/>
<rect x="599" y="417.5" width="1" height="4.8" fill="#ef5350"/>
<rect x="597" y="418.0" width="5" height="3.0" fill="#ef5350"/>
<rect x="607" y="415.9" width="1" height="5.1" fill="#26a69a"/>
<rect x="605" y="416.8" width="5" height="3.8" fill="#26a69a"/>
<rect x="615" y="409.3" width="1" height="9.7" fill="#26a69a"/>
<rect x="613" y="411.0" width="5" height="7.7" fill="#26a69a"/>
<rect x="622" y="398.0" width="1" height="14.0" fill="#26a69a"/>
<rect x="620" y="403.4" width="5" height="8.1" fill="#26a69a"/>
<rect x="630" y="401.0" width="1" height="5.8" fill="#ef5350"/>
<rect x="628" y="403.0" width="5" height="3.8" fill="#ef5350"/>
<rect x="638" y="406.0" width="1" height="8.7" fill="#ef5350"/>
<rect x="636" y="406.3" width="5" height="3.7" fill="#ef5350"/>
<rect x="646" y="405.3" width="1" height="4.7" fill="#26a69a"/>
<rect x="644" y="407.4" width="5" height="2.2" fill="#26a69a"/>
<rect x="653" y="399.9" width="1" height="8.2" fill="#26a69a"/>
<rect x="651" y="400.8" width="5" height="7.0" fill="#26a69a"/>
<rect x="661" y="398.4" width="1" height="4.6" fill="#26a69a"/>
<rect x="659" y="399.7" width="5" height="1.9" fill="#26a69a"/>
<rect x="669" y="389.0" width="1" height="12.5" fill="#26a69a"/>
<rect x="667" y="389.9" width="5" height="10.9" fill="#26a69a"/>
<rect x="677" y="383.3" width="1" height="15.6" fill="#ef5350"/>
<rect x="675" y="389.5" width="5" height="1.3" fill="#ef5350"/>
<rect x="684" y="382.0" width="1" height="9.5" fill="#26a69a"/>
<rect x="682" y="382.9" width="5" height="7.9" fill="#26a69a"/>
<rect x="692" y="379.0" width="1" height="13.7" fill="#ef5350"/>
<rect x="690" y="382.9" width="5" height="4.1" fill="#ef5350"/>
<rect x="700" y="377.5" width="1" height="9.5" fill="#26a69a"/>
<rect x="698" y="378.2" width="5" height="8.5" fill="#26a69a"/>
<rect x="708" y="353.2" width="1" height="25.8" fill="#26a69a"/>
<rect x="706" y="359.2" width="5" height="19.4" fill="#26a69a"/>
<rect x="715" y="350.4" width="1" height="11.2" fill="#26a69a"/>
<rect x="713" y="357.0" width="5" height="2.8" fill="#26a69a"/>
<rect x="723" y="350.9" width="1" height="16.8" fill="#26a69a"/>
<rect x="721" y="351.9" width="5" height="5.6" fill="#26a69a"/>
<rect x="731" y="333.0" width="1" height="20.7" fill="#26a69a"/>
<rect x="729" y="334.0" width="5" height="18.8" fill="#26a69a"/>
<rect x="739" y="331.9" width="1" height="17.5" fill="#ef5350"/>
<rect x="737" y="334.0" width="5" height="3.6" fill="#ef5350"/>
<rect x="746" y="322.0" width="1" height="16.5" fill="#26a69a"/>
<rect x="744" y="323.0" width="5" height="14.6" fill="#26a69a"/>
<rect x="754" y="303.3" width="1" height="24.1" fill="#26a69a"/>
<rect x="752" y="307.0" width="5" height="16.6" fill="#26a69a"/>
<rect x="762" y="283.3" width="1" height="25.7" fill="#26a69a"/>
<rect x="760" y="294.8" width="5" height="13.2" fill="#26a69a"/>
<rect x="770" y="288.2" width="1" height="21.3" fill="#ef5350"/>
<rect x="768" y="295.8" width="5" height="12.2" fill="#ef5350"/>
<rect x="777" y="301.0" width="1" height="24.9" fill="#26a69a"/>
<rect x="775" y="305.7" width="5" height="2.3" fill="#26a69a"/>
<rect x="785" y="302.4" width="1" height="19.3" fill="#ef5350"/>
<rect x="783" y="306.0" width="5" height="14.6" fill="#ef5350"/>
<rect x="793" y="308.0" width="1" height="14.5" fill="#26a69a"/>
<rect x="791" y="309.3" width="5" height="11.3" fill="#26a69a"/>
<rect x="801" y="307.0" width="1" height="12.9" fill="#ef5350"/>
<rect x="799" y="309.9" width="5" height="7.5" fill="#ef5350"/>
<rect x="808" y="316.0" width="1" height="10.8" fill="#ef5350"/>
<rect x="806" y="316.8" width="5" height="7.2" fill="#ef5350"/>
<rect x="816" y="313.3" width="1" height="11.1" fill="#26a69a"/>
<rect x="814" y="316.0" width="5" height="8.0" fill="#26a69a"/>
<rect x="824" y="315.5" width="1" height="10.0" fill="#ef5350"/>
<rect x="822" y="316.0" width="5" height="4.6" fill="#ef5350"/>
<rect x="831" y="318.3" width="1" height="6.7" fill="#ef5350"/>
<rect x="829" y="320.2" width="5" height="2.3" fill="#ef5350"/>
<rect x="839" y="321.2" width="1" height="3.2" fill="#ef5350"/>
<rect x="837" y="322.0" width="5" height="1.6" fill="#ef5350"/>
<rect x="847" y="322.0" width="1" height="21.8" fill="#ef5350"/>
<rect x="845" y="323.0" width="5" height="18.0" fill="#ef5350"/>
<rect x="855" y="338.7" width="1" height="10.7" fill="#ef5350"/>
<rect x="853" y="340.4" width="5" height="2.4" fill="#ef5350"/>
<rect x="862" y="339.0" width="1" height="7.2" fill="#ef5350"/>
<rect x="860" y="342.0" width="5" height="3.7" fill="#ef5350"/>
<rect x="870" y="338.2" width="1" height="7.8" fill="#26a69a"/>
<rect x="868" y="341.2" width="5" height="4.5" fill="#26a69a"/>
<rect x="878" y="338.7" width="1" height="4.3" fill="#26a69a"/>
<rect x="876" y="339.2" width="5" height="2.8" fill="#26a69a"/>
<rect x="886" y="328.2" width="1" height="12.0" fill="#26a69a"/>
<rect x="884" y="330.0" width="5" height="9.9" fill="#26a69a"/>
<rect x="893" y="311.0" width="1" height="20.0" fill="#26a69a"/>
<rect x="891" y="312.8" width="5" height="17.9" fill="#26a69a"/>
<rect x="901" y="296.2" width="1" height="21.7" fill="#26a69a"/>
<rect x="899" y="305.0" width="5" height="8.7" fill="#26a69a"/>
<rect x="909" y="297.0" width="1" height="14.0" fill="#ef5350"/>
<rect x="907" y="305.0" width="5" height="2.9" fill="#ef5350"/>
<rect x="917" y="300.0" width="1" height="10.5" fill="#ef5350"/>
<rect x="915" y="307.0" width="5" height="2.8" fill="#ef5350"/>
<rect x="924" y="304.0" width="1" height="12.0" fill="#ef5350"/>
<rect x="922" y="309.0" width="5" height="5.7" fill="#ef5350"/>
<rect x="932" y="306.2" width="1" height="11.7" fill="#26a69a"/>
<rect x="930" y="310.0" width="5" height="4.7" fill="#26a69a"/>
<rect x="940" y="309.0" width="1" height="12.6" fill="#ef5350"/>
<rect x="938" y="310.0" width="5" height="7.5" fill="#ef5350"/>
<rect x="948" y="316.0" width="1" height="6.6" fill="#ef5350"/>
<rect x="946" y="317.0" width="5" height="2.8" fill="#ef5350"/>
<rect x="955" y="308.8" width="1" height="11.9" fill="#26a69a"/>
<rect x="953" y="310.0" width="5" height="9.8" fill="#26a69a"/>
<rect x="963" y="305.0" width="1" height="9.0" fill="#ef5350"/>
<rect x="961" y="310.0" width="5" height="3.7" fill="#ef5350"/>
<rect x="971" y="310.4" width="1" height="29.1" fill="#ef5350"/>
<rect x="969" y="313.0" width="5" height="10.5" fill="#ef5350"/>
<rect x="979" y="309.0" width="1" height="15.0" fill="#26a69a"/>
<rect x="977" y="311.9" width="5" height="11.6" fill="#26a69a"/>
<rect x="986" y="307.0" width="1" height="9.0" fill="#26a69a"/>
<rect x="984" y="309.0" width="5" height="3.8" fill="#26a69a"/>
<rect x="994" y="306.0" width="1" height="5.0" fill="#ef5350"/>
<rect x="992" y="309.0" width="5" height="2.0" fill="#ef5350"/>
<rect x="1002" y="302.3" width="1" height="8.7" fill="#26a69a"/>
<rect x="1000" y="302.8" width="5" height="7.9" fill="#26a69a"/>
<rect x="1010" y="299.0" width="1" height="6.4" fill="#26a69a"/>
<rect x="1008" y="302.0" width="5" height="2.0" fill="#26a69a"/>
<rect x="1017" y="301.0" width="1" height="6.5" fill="#ef5350"/>
<rect x="1015" y="301.9" width="5" height="3.7" fill="#ef5350"/>
<rect x="1025" y="294.9" width="1" height="11.1" fill="#26a69a"/>
<rect x="1023" y="295.9" width="5" height="9.7" fill="#26a69a"/>
<rect x="1033" y="283.0" width="1" height="14.0" fill="#26a69a"/>
<rect x="1031" y="283.4" width="5" height="13.2" fill="#26a69a"/>
<rect x="1041" y="269.0" width="1" height="17.8" fill="#26a69a"/>
<rect x="1039" y="269.3" width="5" height="14.3" fill="#26a69a"/>
<rect x="1048" y="256.0" width="1" height="14.8" fill="#26a69a"/>
<rect x="1046" y="265.0" width="5" height="4.9" fill="#26a69a"/>
<rect x="1056" y="245.0" width="1" height="21.0" fill="#26a69a"/>
<rect x="1054" y="254.0" width="5" height="11.6" fill="#26a69a"/>
<rect x="1064" y="243.2" width="1" height="11.2" fill="#26a69a"/>
<rect x="1062" y="244.0" width="5" height="10.4" fill="#26a69a"/>
<rect x="1072" y="241.0" width="1" height="11.0" fill="#ef5350"/>
<rect x="1070" y="243.9" width="5" height="1.9" fill="#ef5350"/>
<rect x="1079" y="243.9" width="1" height="24.1" fill="#ef5350"/>
<rect x="1077" y="244.8" width="5" height="15.7" fill="#ef5350"/>
<rect x="1087" y="257.0" width="1" height="12.0" fill="#ef5350"/>
<rect x="1085" y="259.9" width="5" height="3.8" fill="#ef5350"/>
<rect x="1095" y="256.0" width="1" height="12.6" fill="#26a69a"/>
<rect x="1093" y="257.0" width="5" height="7.0" fill="#26a69a"/>
<rect x="1103" y="250.0" width="1" height="10.0" fill="#26a69a"/>
<rect x="1101" y="251.6" width="5" height="6.4" fill="#26a69a"/>
<rect x="1110" y="248.0" width="1" height="10.0" fill="#ef5350"/>
<rect x="1108" y="251.6" width="5" height="4.4" fill="#ef5350"/>
<rect x="1118" y="240.0" width="1" height="16.5" fill="#26a69a"/>
<rect x="1116" y="243.0" width="5" height="13.0" fill="#26a69a"/>
<rect x="1126" y="239.4" width="1" height="8.6" fill="#ef5350"/>
<rect x="1124" y="243.4" width="5" height="3.0" fill="#ef5350"/>
<rect x="1134" y="244.0" width="1" height="12.0" fill="#ef5350"/>
<rect x="1132" y="245.0" width="5" height="9.0" fill="#ef5350"/>
<rect x="1141" y="251.6" width="1" height="13.4" fill="#ef5350"/>
<rect x="1139" y="253.0" width="5" height="7.0" fill="#ef5350"/>
<rect x="1149" y="253.0" width="1" height="10.0" fill="#26a69a"/>
<rect x="1147" y="255.0" width="5" height="5.0" fill="#26a69a"/>
<rect x="1157" y="251.0" width="1" height="10.0" fill="#26a69a"/>
<rect x="1155" y="253.0" width="5" height="3.0" fill="#26a69a"/>
<rect x="1165" y="252.0" width="1" height="9.0" fill="#ef5350"/>
<rect x="1163" y="253.0" width="5" height="7.4" fill="#ef5350"/>
<rect x="1172" y="258.0" width="1" height="16.0" fill="#ef5350"/>
<rect x="1170" y="260.0" width="5" height="7.0" fill="#ef5350"/>
<rect x="1180" y="265.5" width="1" height="23.1" fill="#ef5350"/>
<rect x="1178" y="266.0" width="5" height="18.0" fill="#ef5350"/>
<rect x="1188" y="275.0" width="1" height="9.4" fill="#26a69a"/>
<rect x="1186" y="277.0" width="5" height="7.0" fill="#26a69a"/>
<rect x="1196" y="274.0" width="1" height="9.6" fill="#ef5350"/>
<rect x="1194" y="277.0" width="5" height="6.0" fill="#ef5350"/>
<rect x="1203" y="278.0" width="1" height="8.0" fill="#ef5350"/>
<rect x="1201" y="282.4" width="5" height="1.8" fill="#ef5350"/>
</g>
<rect x="1488" y="0" width="91" height="784" fill="url(#bgg)"/>
<line x1="1488.5" y1="0" x2="1488.5" y2="812" stroke="#2a2e39" stroke-width="1"/>
<text x="1498.2" y="37.3" font-size="12" fill="#b2b5be" stroke="#b2b5be" stroke-width="0.2" textLength="67.3" lengthAdjust="spacingAndGlyphs">22500000.00</text>
<text x="1498.2" y="68.3" font-size="12" fill="#b2b5be" stroke="#b2b5be" stroke-width="0.2" textLength="61.0" lengthAdjust="spacingAndGlyphs">9500000.00</text>
<text x="1498.2" y="100.3" font-size="12" fill="#b2b5be" stroke="#b2b5be" stroke-width="0.2" textLength="61.0" lengthAdjust="spacingAndGlyphs">3900000.00</text>
<text x="1498.2" y="134.3" font-size="12" fill="#b2b5be" stroke="#b2b5be" stroke-width="0.2" textLength="61.0" lengthAdjust="spacingAndGlyphs">1500000.00</text>
<text x="1498.2" y="166.3" font-size="12" fill="#b2b5be" stroke="#b2b5be" stroke-width="0.2" textLength="54.8" lengthAdjust="spacingAndGlyphs">600000.00</text>
<text x="1498.2" y="197.3" font-size="12" fill="#b2b5be" stroke="#b2b5be" stroke-width="0.2" textLength="54.8" lengthAdjust="spacingAndGlyphs">250000.00</text>
<text x="1498.2" y="230.3" font-size="12" fill="#b2b5be" stroke="#b2b5be" stroke-width="0.2" textLength="54.8" lengthAdjust="spacingAndGlyphs">100000.00</text>
<text x="1498.2" y="262.3" font-size="12" fill="#b2b5be" stroke="#b2b5be" stroke-width="0.2" textLength="48.5" lengthAdjust="spacingAndGlyphs">40000.00</text>
<text x="1498.2" y="330.3" font-size="12" fill="#b2b5be" stroke="#b2b5be" stroke-width="0.2" textLength="42.2" lengthAdjust="spacingAndGlyphs">6000.00</text>
<text x="1498.2" y="361.3" font-size="12" fill="#b2b5be" stroke="#b2b5be" stroke-width="0.2" textLength="42.2" lengthAdjust="spacingAndGlyphs">2500.00</text>
<text x="1498.2" y="394.3" font-size="12" fill="#b2b5be" stroke="#b2b5be" stroke-width="0.2" textLength="42.2" lengthAdjust="spacingAndGlyphs">1000.00</text>
<text x="1498.2" y="426.3" font-size="12" fill="#b2b5be" stroke="#b2b5be" stroke-width="0.2" textLength="35.9" lengthAdjust="spacingAndGlyphs">400.00</text>
<text x="1498.2" y="459.3" font-size="12" fill="#b2b5be" stroke="#b2b5be" stroke-width="0.2" textLength="35.9" lengthAdjust="spacingAndGlyphs">160.00</text>
<text x="1498.2" y="494.3" font-size="12" fill="#b2b5be" stroke="#b2b5be" stroke-width="0.2" textLength="29.6" lengthAdjust="spacingAndGlyphs">60.00</text>
<text x="1498.2" y="525.3" font-size="12" fill="#b2b5be" stroke="#b2b5be" stroke-width="0.2" textLength="29.6" lengthAdjust="spacingAndGlyphs">25.00</text>
<text x="1498.2" y="557.3" font-size="12" fill="#b2b5be" stroke="#b2b5be" stroke-width="0.2" textLength="29.6" lengthAdjust="spacingAndGlyphs">10.00</text>
<text x="1498.2" y="590.3" font-size="12" fill="#b2b5be" stroke="#b2b5be" stroke-width="0.2" textLength="23.3" lengthAdjust="spacingAndGlyphs">4.00</text>
<text x="1498.2" y="622.3" font-size="12" fill="#b2b5be" stroke="#b2b5be" stroke-width="0.2" textLength="23.3" lengthAdjust="spacingAndGlyphs">1.60</text>
<text x="1498.2" y="657.3" font-size="12" fill="#b2b5be" stroke="#b2b5be" stroke-width="0.2" textLength="23.3" lengthAdjust="spacingAndGlyphs">0.60</text>
<text x="1498.2" y="688.3" font-size="12" fill="#b2b5be" stroke="#b2b5be" stroke-width="0.2" textLength="23.3" lengthAdjust="spacingAndGlyphs">0.25</text>
<text x="1498.2" y="721.3" font-size="12" fill="#b2b5be" stroke="#b2b5be" stroke-width="0.2" textLength="23.3" lengthAdjust="spacingAndGlyphs">0.10</text>
<text x="1498.2" y="753.3" font-size="12" fill="#b2b5be" stroke="#b2b5be" stroke-width="0.2" textLength="23.3" lengthAdjust="spacingAndGlyphs">0.04</text>
<text x="1498.2" y="16" font-size="12" fill="#b2b5be" textLength="20.2" lengthAdjust="spacingAndGlyphs">BTC</text>
<polyline points="1522,10.2 1524.4,12.7 1526.8,10.2" fill="none" stroke="#b2b5be" stroke-width="1.2"/>
<path d="M1458.2 275 H1487.2 V292 H1458.2 a2 2 0 0 1 -2 -2 V277 a2 2 0 0 1 2 -2 z" fill="#ef5350"/>
<text x="1461.8" y="287.8" font-size="12" fill="#fff" stroke="#fff" stroke-width="0.25" textLength="19.4" lengthAdjust="spacingAndGlyphs">BLX</text>
<path d="M1488 275 H1550.5 a2.5 2.5 0 0 1 2.5 2.5 V303.3 a2.5 2.5 0 0 1 -2.5 2.5 H1488 z" fill="#ef5350"/>
<text x="1498.6" y="287.8" font-size="12" fill="#fff" stroke="#fff" stroke-width="0.45" textLength="47.9" lengthAdjust="spacingAndGlyphs">19540.04</text>
<text x="1499.4" y="302" font-size="12" fill="#fde3e2" stroke="#fde3e2" stroke-width="0.2" textLength="40.6" lengthAdjust="spacingAndGlyphs">10d 18h</text>
<path d="M1488 761 H1552 a2 2 0 0 1 2 2 V776 a2 2 0 0 1 -2 2 H1488 z" fill="#ef5350"/>
<text x="1498.5" y="773.8" font-size="12" fill="#fff" stroke="#fff" stroke-width="0.45" textLength="48.5" lengthAdjust="spacingAndGlyphs">752.029K</text>
<rect x="0" y="784" width="1579" height="28" fill="#131722"/>
<line x1="0" y1="784.5" x2="1579" y2="784.5" stroke="#2a2e39" stroke-width="1"/>
<line x1="1488.5" y1="784" x2="1488.5" y2="812" stroke="#2a2e39" stroke-width="1"/>
<text x="118.8" y="801.8" font-size="12" font-weight="bold" fill="#b2b5be" text-anchor="middle" textLength="27" lengthAdjust="spacingAndGlyphs">2011</text>
<text x="211.8" y="801.8" font-size="12" font-weight="bold" fill="#b2b5be" text-anchor="middle" textLength="27" lengthAdjust="spacingAndGlyphs">2012</text>
<text x="397.8" y="801.8" font-size="12" font-weight="bold" fill="#b2b5be" text-anchor="middle" textLength="27" lengthAdjust="spacingAndGlyphs">2014</text>
<text x="490.8" y="801.8" font-size="12" font-weight="bold" fill="#b2b5be" text-anchor="middle" textLength="27" lengthAdjust="spacingAndGlyphs">2015</text>
<text x="583.8" y="801.8" font-size="12" font-weight="bold" fill="#b2b5be" text-anchor="middle" textLength="27" lengthAdjust="spacingAndGlyphs">2016</text>
<text x="676.8" y="801.8" font-size="12" font-weight="bold" fill="#b2b5be" text-anchor="middle" textLength="27" lengthAdjust="spacingAndGlyphs">2017</text>
<text x="769.8" y="801.8" font-size="12" font-weight="bold" fill="#b2b5be" text-anchor="middle" textLength="27" lengthAdjust="spacingAndGlyphs">2018</text>
<text x="862.8" y="801.8" font-size="12" font-weight="bold" fill="#b2b5be" text-anchor="middle" textLength="27" lengthAdjust="spacingAndGlyphs">2019</text>
<text x="955.8" y="801.8" font-size="12" font-weight="bold" fill="#b2b5be" text-anchor="middle" textLength="27" lengthAdjust="spacingAndGlyphs">2020</text>
<text x="1048.8" y="801.8" font-size="12" font-weight="bold" fill="#b2b5be" text-anchor="middle" textLength="27" lengthAdjust="spacingAndGlyphs">2021</text>
<text x="1141.8" y="801.8" font-size="12" font-weight="bold" fill="#b2b5be" text-anchor="middle" textLength="27" lengthAdjust="spacingAndGlyphs">2022</text>
<text x="1234.8" y="801.8" font-size="12" font-weight="bold" fill="#b2b5be" text-anchor="middle" textLength="27" lengthAdjust="spacingAndGlyphs">2023</text>
<text x="1420.8" y="801.8" font-size="12" font-weight="bold" fill="#b2b5be" text-anchor="middle" textLength="27" lengthAdjust="spacingAndGlyphs">2025</text>
<rect x="253.9" y="784" width="72.29999999999998" height="24" rx="2" fill="#ffeb3b"/><text x="290.05" y="802.6" font-size="12" fill="#131722" text-anchor="middle" textLength="53.5" lengthAdjust="spacingAndGlyphs">01 Nov '12</text>
<rect x="597.1" y="784" width="67.69999999999993" height="24" rx="2" fill="#ffeb3b"/><text x="630.95" y="802.6" font-size="12" fill="#131722" text-anchor="middle" textLength="49.4" lengthAdjust="spacingAndGlyphs">01 Jul '16</text>
<rect x="950.1" y="784" width="72.89999999999998" height="24" rx="2" fill="#ffeb3b"/><text x="986.55" y="802.6" font-size="12" fill="#131722" text-anchor="middle" textLength="55.1" lengthAdjust="spacingAndGlyphs">01 May '20</text>
<rect x="1307" y="784" width="72" height="24" rx="2" fill="#ffeb3b"/><text x="1343.0" y="802.6" font-size="12" fill="#131722" text-anchor="middle" textLength="53.6" lengthAdjust="spacingAndGlyphs">01 Mar '24</text>
<circle cx="1532.5" cy="798.5" r="4.6" fill="none" stroke="#b2b5be" stroke-width="1.1"/><line x1="1538.10" y1="798.50" x2="1540.10" y2="798.50" stroke="#b2b5be" stroke-width="1.1"/><line x1="1536.46" y1="802.46" x2="1537.87" y2="803.87" stroke="#b2b5be" stroke-width="1.1"/><line x1="1532.50" y1="804.10" x2="1532.50" y2="806.10" stroke="#b2b5be" stroke-width="1.1"/><line x1="1528.54" y1="802.46" x2="1527.13" y2="803.87" stroke="#b2b5be" stroke-width="1.1"/><line x1="1526.90" y1="798.50" x2="1524.90" y2="798.50" stroke="#b2b5be" stroke-width="1.1"/><line x1="1528.54" y1="794.54" x2="1527.13" y2="793.13" stroke="#b2b5be" stroke-width="1.1"/><line x1="1532.50" y1="792.90" x2="1532.50" y2="790.90" stroke="#b2b5be" stroke-width="1.1"/><line x1="1536.46" y1="794.54" x2="1537.87" y2="793.13" stroke="#b2b5be" stroke-width="1.1"/>
<rect x="0" y="812" width="1579" height="38" fill="#131722"/>
<line x1="0" y1="812.5" x2="1579" y2="812.5" stroke="#2a2e39" stroke-width="1"/>
<text x="10.8" y="836.9" font-size="14" fill="#b2b5be" textLength="15" lengthAdjust="spacingAndGlyphs">1D</text>
<text x="40.5" y="836.9" font-size="14" fill="#b2b5be" textLength="15.1" lengthAdjust="spacingAndGlyphs">5D</text>
<text x="71" y="836.9" font-size="14" fill="#b2b5be" textLength="16.2" lengthAdjust="spacingAndGlyphs">1M</text>
<text x="101.6" y="836.9" font-size="14" fill="#b2b5be" textLength="16.8" lengthAdjust="spacingAndGlyphs">3M</text>
<text x="132.4" y="836.9" font-size="14" fill="#b2b5be" textLength="17.3" lengthAdjust="spacingAndGlyphs">6M</text>
<text x="164.1" y="836.9" font-size="14" fill="#b2b5be" textLength="23.9" lengthAdjust="spacingAndGlyphs">YTD</text>
<text x="203.5" y="836.9" font-size="14" fill="#b2b5be" textLength="14" lengthAdjust="spacingAndGlyphs">1Y</text>
<text x="232.1" y="836.9" font-size="14" fill="#b2b5be" textLength="14.5" lengthAdjust="spacingAndGlyphs">5Y</text>
<text x="261" y="836.9" font-size="14" fill="#b2b5be" textLength="16.4" lengthAdjust="spacingAndGlyphs">All</text>
<line x1="294.5" y1="822" x2="294.5" y2="843" stroke="#2a2e39" stroke-width="1"/>
<g fill="none" stroke="#b2b5be" stroke-width="1.1"><path d="M312.5 830.8 V827.5 a2 2 0 0 1 2 -2 H325.5 a2 2 0 0 1 2 2 V836.5 a2 2 0 0 1 -2 2 H320"/><path d="M312.5 829.5 H327.5 M316.4 823.8 v2.9 M323.5 823.8 v2.9"/><path d="M311 835.5 H318.6 M315.1 832 l3.7 3.5 l-3.7 3.5"/></g>
<text x="1334" y="836.9" font-size="14" fill="#b2b5be" textLength="108.6" lengthAdjust="spacingAndGlyphs">08:05:53 (UTC+2)</text>
<line x1="1459.5" y1="821" x2="1459.5" y2="843" stroke="#2a2e39" stroke-width="1"/>
<text x="1476" y="836.9" font-size="14" fill="#b2b5be" textLength="13.5" lengthAdjust="spacingAndGlyphs">%</text>
<text x="1504.6" y="836.9" font-size="14" fill="#2962ff" textLength="18.4" lengthAdjust="spacingAndGlyphs">log</text>
<text x="1536.8" y="836.9" font-size="14" fill="#b2b5be" textLength="28.1" lengthAdjust="spacingAndGlyphs">auto</text>
<rect x="0" y="3" width="900" height="23.8" fill="#181c27" fill-opacity="0.55"/>
<text x="2.7" y="20.7" font-size="15.3" fill="#b2b5be" stroke="#b2b5be" stroke-width="0.2" textLength="103.1" lengthAdjust="spacingAndGlyphs">BraveNewCoin</text>
<text x="109.7" y="20.7" font-size="15.3" fill="#b2b5be" stroke="#b2b5be" stroke-width="0.2" textLength="44.1" lengthAdjust="spacingAndGlyphs">Liquid</text>
<text x="159" y="20.7" font-size="15.3" fill="#b2b5be" stroke="#b2b5be" stroke-width="0.2" textLength="38.5" lengthAdjust="spacingAndGlyphs">Index</text>
<text x="203" y="20.7" font-size="15.3" fill="#b2b5be" stroke="#b2b5be" stroke-width="0.2" textLength="21.6" lengthAdjust="spacingAndGlyphs">for</text>
<text x="228.3" y="20.7" font-size="15.3" fill="#b2b5be" stroke="#b2b5be" stroke-width="0.2" textLength="49.6" lengthAdjust="spacingAndGlyphs">Bitcoin</text>
<circle cx="283.8" cy="16" r="0.9" fill="#787b86"/><circle cx="315.6" cy="16" r="0.9" fill="#787b86"/><circle cx="357" cy="16" r="0.9" fill="#787b86"/>
<text x="290.4" y="20.7" font-size="15.3" fill="#b2b5be" stroke="#b2b5be" stroke-width="0.2" textLength="20.3" lengthAdjust="spacingAndGlyphs">1M</text>
<text x="321.6" y="20.7" font-size="15.3" fill="#b2b5be" stroke="#b2b5be" stroke-width="0.2" textLength="28.8" lengthAdjust="spacingAndGlyphs">BNC</text>
<text x="363" y="20.7" font-size="15.3" fill="#b2b5be" stroke="#b2b5be" stroke-width="0.2" textLength="85.9" lengthAdjust="spacingAndGlyphs">TradingView</text>
<path d="M461 9.2 h12 l-3.6 5.6 l3.6 5.6 h-12 z" fill="#2962ff"/>
<circle cx="501" cy="15" r="9.1" fill="#2a2e39"/><circle cx="501" cy="15" r="4.1" fill="#26a69a"/>
<text x="526" y="20.7" font-size="13" fill="#b2b5be" textLength="9.6" lengthAdjust="spacingAndGlyphs">O</text><text x="536.6" y="20.7" font-size="13" fill="#ef5350" stroke="#ef5350" stroke-width="0.15" textLength="51.5" lengthAdjust="spacingAndGlyphs">20048.28</text>
<text x="594.2" y="20.7" font-size="13" fill="#b2b5be" textLength="9.2" lengthAdjust="spacingAndGlyphs">H</text><text x="604.6" y="20.7" font-size="13" fill="#ef5350" stroke="#ef5350" stroke-width="0.15" textLength="51.6" lengthAdjust="spacingAndGlyphs">22744.02</text>
<text x="662.4" y="20.7" font-size="13" fill="#b2b5be" textLength="7.0" lengthAdjust="spacingAndGlyphs">L</text><text x="671.4" y="20.7" font-size="13" fill="#ef5350" stroke="#ef5350" stroke-width="0.15" textLength="50.2" lengthAdjust="spacingAndGlyphs">18317.91</text>
<text x="728.4" y="20.7" font-size="13" fill="#b2b5be" textLength="9.0" lengthAdjust="spacingAndGlyphs">C</text><text x="738.2" y="20.7" font-size="13" fill="#ef5350" stroke="#ef5350" stroke-width="0.15" textLength="51.5" lengthAdjust="spacingAndGlyphs">19540.04</text>
<text x="797" y="20.7" font-size="13" fill="#ef5350" stroke="#ef5350" stroke-width="0.15" textLength="98" lengthAdjust="spacingAndGlyphs">−513.53 (−2.56%)</text>
<rect x="2.55" y="31.6" width="68.2" height="22.6" rx="4" fill="#181c27" stroke="#f23645" stroke-width="1"/>
<text x="10.8" y="47.7" font-size="13" fill="#f23645" stroke="#f23645" stroke-width="0.35" textLength="52.2" lengthAdjust="spacingAndGlyphs">19540.04</text>
<text x="78.4" y="47.7" font-size="13" fill="#d1d4dc" stroke="#d1d4dc" stroke-width="0.35" textLength="21.4" lengthAdjust="spacingAndGlyphs">0.00</text>
<rect x="108.3" y="31.6" width="67.4" height="22.6" rx="4" fill="#181c27" stroke="#2962ff" stroke-width="1"/>
<text x="116" y="47.7" font-size="13" fill="#2962ff" stroke="#2962ff" stroke-width="0.35" textLength="52.2" lengthAdjust="spacingAndGlyphs">19540.04</text>
<rect x="3.7" y="61.8" width="30.6" height="19.6" rx="3" fill="#181c27" stroke="#434651" stroke-width="1" stroke-dasharray="1.6 1"/>
<polyline points="9.9,70 13.5,73.6 17.1,70" fill="none" stroke="#d1d4dc" stroke-width="1.3"/>
<text x="23.2" y="75.7" font-size="12" fill="#d1d4dc" stroke="#d1d4dc" stroke-width="0.4">4</text>
<rect x="1576.2" y="0" width="3" height="850" fill="#2a2e39"/>
<rect x="1578" y="812.5" width="1.2" height="20.5" fill="#1a1e29"/>
<path d="M1576.3 850 V845.5 A4.5 4.5 0 0 1 1571.8 850 Z" fill="#2a2e39"/>
</svg>
</body></html>
